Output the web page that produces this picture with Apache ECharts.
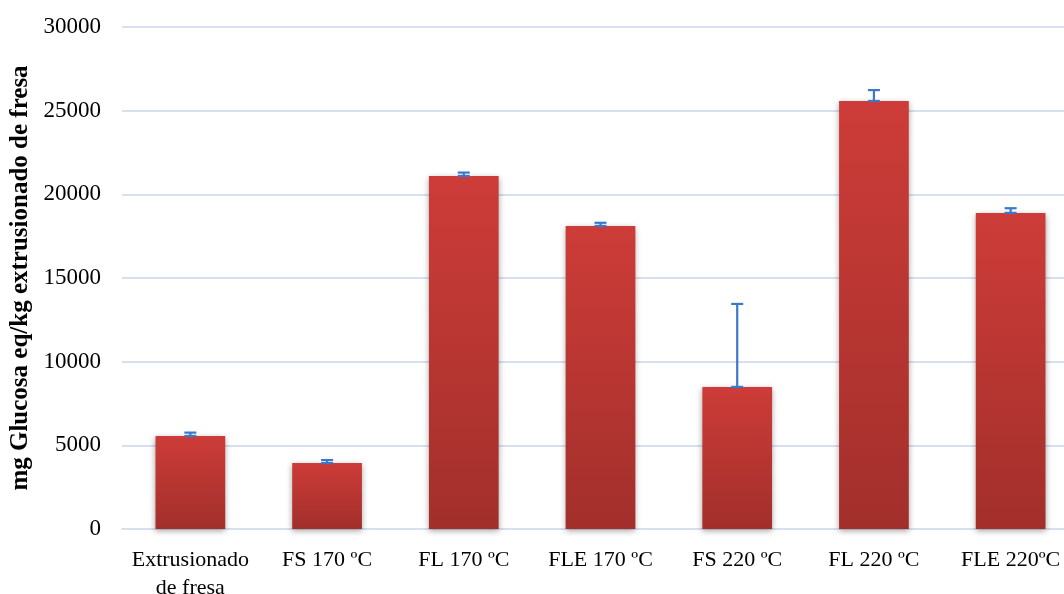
<!DOCTYPE html>
<html><head><meta charset="utf-8">
<script src="https://cdn.jsdelivr.net/npm/echarts@6/dist/echarts.min.js"></script>
<style>html,body{margin:0;padding:0;background:#fff;overflow:hidden}#c{width:1064px;height:594px}</style>
</head><body><div id="c"></div>
<script>
const categories = ['Extrusionado\nde fresa', 'FS 170 ºC', 'FL 170 ºC', 'FLE 170 ºC', 'FS 220 ºC', 'FL 220 ºC', 'FLE 220ºC'];
const values = [5560, 3940, 21100, 18110, 8490, 25580, 18890];
const errors = [200, 180, 200, 190, 4960, 650, 280];
const yTicks = [0, 5000, 10000, 15000, 20000, 25000, 30000];

const chart = echarts.init(document.getElementById('c'), null, {renderer: 'canvas'});
const serif = '"Liberation Serif", "Times New Roman", serif';
chart.setOption({
  animation: false,
  grid: {left: 122, top: 27, width: 957, height: 502, containLabel: false, outerBoundsMode: 'none'},
  xAxis: {
    type: 'category', data: categories,
    axisLine: {show: true, lineStyle: {color: '#d6e0ee', width: 2}},
    axisTick: {show: false},
    axisLabel: {color: '#000', fontFamily: serif, fontSize: 22, margin: 17, lineHeight: 28, interval: 0, hideOverlap: false}
  },
  yAxis: {
    type: 'value', min: yTicks[0], max: yTicks[yTicks.length - 1], interval: 5000,
    name: 'mg Glucosa eq/kg extrusionado de fresa', nameLocation: 'middle', nameGap: 89,
    nameTextStyle: {color: '#000', fontFamily: serif, fontSize: 25, fontWeight: 'bold'},
    axisLine: {show: false}, axisTick: {show: false},
    axisLabel: {color: '#000', fontFamily: serif, fontSize: 23, margin: 21, formatter: v => String(v)},
    splitLine: {lineStyle: {color: '#d6e0ee', width: 2}}
  },
  series: [{
    type: 'bar', data: values, barWidth: '51%',
    itemStyle: {
      color: new echarts.graphic.LinearGradient(0, 0, 0, 1, [
        {offset: 0, color: '#cd3c38'}, {offset: 1, color: '#a22f2b'}
      ]),
      shadowBlur: 6, shadowColor: 'rgba(0,0,0,0.35)', shadowOffsetX: 0, shadowOffsetY: 2
    }
  }, {
    type: 'custom', z: 5,
    data: values.map((v, i) => [i, v, v + errors[i]]),
    renderItem: function (params, api) {
      const x = api.value(0);
      const lo = api.coord([x, api.value(1)]);
      const hi = api.coord([x, api.value(2)]);
      const hw = 6;
      const st = {stroke: '#3a78c8', lineWidth: 2.2};
      return {type: 'group', children: [
        {type: 'line', shape: {x1: lo[0], y1: lo[1], x2: hi[0], y2: hi[1]}, style: st},
        {type: 'line', shape: {x1: hi[0] - hw, y1: hi[1], x2: hi[0] + hw, y2: hi[1]}, style: st},
        {type: 'line', shape: {x1: lo[0] - hw, y1: lo[1], x2: lo[0] + hw, y2: lo[1]}, style: st}
      ]};
    }
  }]
});
</script></body></html>
